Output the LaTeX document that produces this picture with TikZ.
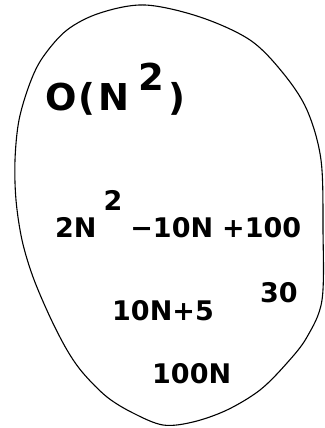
\documentclass[tikz,border=0pt]{standalone}
\usepackage{fontspec}
\setmainfont{DejaVu Sans}
\begin{document}
\begin{tikzpicture}[x=1pt, y=-1pt,
    term/.style={font=\fontsize{27}{30}\selectfont\bfseries, inner sep=0pt, anchor=base west},
    bigterm/.style={term, font=\fontsize{37}{40}\selectfont\bfseries},
    blob/.style={line width=1.1pt}
  ]
  \useasboundingbox (0,0) rectangle (324,428);

  % the set drawn as a closed curve
  \draw[blob] plot[smooth cycle, tension=0.55] coordinates {
    (145,5) (200,17) (250,40) (283,73) (307,110) (321,160) (323,230)
    (322,300) (307,337) (287,363) (260,390) (227,410) (193,422) (163,425)
    (133,413) (107,397) (83,373) (67,350) (50,317) (33,277) (22,240)
    (16,200) (15,160) (19,120) (30,83) (43,57) (67,30) (100,13)};

  \node[bigterm] (order) at (45,110)
    {O\hspace{2pt}(\hspace{3pt}N\hspace{9pt}\raisebox{20pt}{2}\hspace{4pt})};
  \node[term] (quad) at (55,237)
    {2N\hspace{7pt}\raisebox{27pt}{2}\hspace{8pt}−10N\hspace{9pt}+100};
  \node[term] (lin) at (112,320) {10N+5};
  \node[term] (const) at (260,302) {30};
  \node[term] (hund) at (152,383) {100N};
\end{tikzpicture}
\end{document}
